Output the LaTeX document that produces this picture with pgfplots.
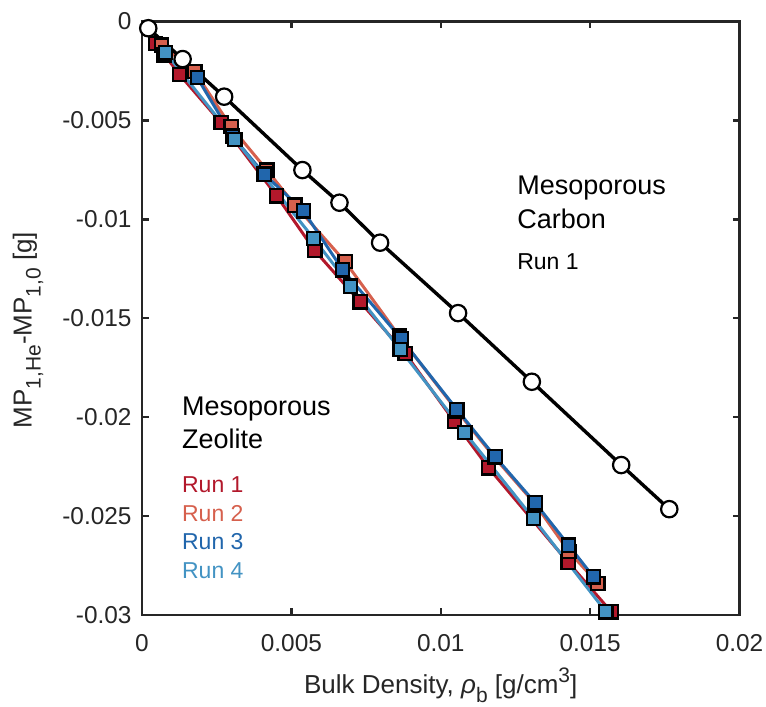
\documentclass[border=0pt]{standalone}
\usepackage{fontspec}
\setmainfont{Liberation Sans}
\usepackage{pgfplots}
\pgfplotsset{compat=1.18}
\definecolor{runA}{HTML}{B2182B}
\definecolor{runB}{HTML}{D6604D}
\definecolor{runC}{HTML}{2166AC}
\definecolor{runD}{HTML}{4393C3}
\definecolor{axgray}{HTML}{262626}
\newcommand{\sub}[1]{\raisebox{-0.65ex}{\fontsize{10.5}{12}\selectfont #1}}
\newcommand{\sups}[1]{\raisebox{0.85ex}{\fontsize{10.5}{12}\selectfont #1}}
\begin{document}
\begin{tikzpicture}
\begin{axis}[
 scale only axis, width=298.75pt, height=296.75pt,
 xmin=0, xmax=0.02, ymin=-0.03, ymax=0,
 xtick={0,0.005,0.01,0.015,0.02},
 xticklabels={0,0.005,0.01,0.015,0.02},
 ytick={-0.03,-0.025,-0.02,-0.015,-0.01,-0.005,0},
 yticklabels={-0.03,-0.025,-0.02,-0.015,-0.01,-0.005,0},
 scaled ticks=false,
 tick align=inside, major tick length=3.3pt,
 axis line style={line width=1.3pt, color=axgray},
 every tick/.style={line width=1.2pt, color=axgray},
 tick label style={font=\fontsize{12.2}{14}\selectfont, text=axgray},
 xticklabel style={yshift=-6pt},
 yticklabel style={xshift=-1.7pt},
 clip=false,
 label style={font=\fontsize{13}{15}\selectfont, text=axgray},
 xlabel={Bulk Density, \textit{ρ}\sub{b} [g/cm\sups{3}]},
 ylabel={MP\sub{1,He}-MP\sub{1,0} [g]},
 xlabel style={at={(axis description cs:0.5,-0.1331)}, anchor=base},
 ylabel style={at={(axis description cs:-0.1846,0.48)}, anchor=base},
 zzline/.style={line width=1.5pt, mark=square*, mark size=3.3pt},
]
\addplot[runA, zzline, mark options={fill=runA, draw=black, line width=1.1pt, solid}] coordinates {
(0.00046,-0.0011) (0.00125,-0.00267) (0.00265,-0.00512) (0.00451,-0.00882)
(0.00579,-0.01159) (0.0073,-0.01417) (0.00881,-0.01677) (0.01046,-0.02023)
(0.0116,-0.02256) (0.01426,-0.02733) (0.01571,-0.02984)};
\addplot[runB, zzline, mark options={fill=runB, draw=black, line width=1.1pt, solid}] coordinates {
(0.00066,-0.00119) (0.00177,-0.00254) (0.00298,-0.00532) (0.00418,-0.00751)
(0.00512,-0.00928) (0.0068,-0.01214) (0.00861,-0.0159) (0.01055,-0.01969)
(0.01179,-0.02202) (0.01316,-0.02439) (0.01429,-0.0268) (0.01526,-0.0284)};
\addplot[runC, zzline, mark options={fill=runC, draw=black, line width=1.1pt, solid}] coordinates {
(0.00074,-0.00169) (0.00185,-0.00284) (0.00302,-0.00579) (0.00409,-0.00771)
(0.0054,-0.00957) (0.00672,-0.01256) (0.00867,-0.01602) (0.01054,-0.01961)
(0.01182,-0.022) (0.01316,-0.02433) (0.01428,-0.02647) (0.01511,-0.02807)};
\addplot[runD, zzline, mark options={fill=runD, draw=black, line width=1.1pt, solid}] coordinates {
(0.00079,-0.00158) (0.00311,-0.00596) (0.00574,-0.01096) (0.00697,-0.01337)
(0.00864,-0.01657) (0.01081,-0.02079) (0.0131,-0.02512) (0.01553,-0.02984)};
\addplot[black, line width=1.7pt, mark=*, mark size=4.1pt, mark options={fill=white, draw=black, line width=1.1pt}] coordinates {
(0.00021,-0.00034) (0.00136,-0.0019) (0.00275,-0.0038) (0.00537,-0.00751)
(0.00661,-0.00916) (0.00797,-0.01118) (0.01058,-0.01474) (0.01305,-0.01821)
(0.01604,-0.02242) (0.01765,-0.02465)};
\node[anchor=base west, font=\fontsize{13.5}{16}\selectfont, inner sep=0pt] at (axis cs:0.01255,-0.00877) {Mesoporous};
\node[anchor=base west, font=\fontsize{13.5}{16}\selectfont, inner sep=0pt] at (axis cs:0.01255,-0.01045) {Carbon};
\node[anchor=base west, font=\fontsize{11.5}{14}\selectfont, inner sep=0pt] at (axis cs:0.01255,-0.01256) {Run 1};
\node[anchor=base west, font=\fontsize{13.5}{16}\selectfont, inner sep=0pt] at (axis cs:0.00133,-0.01993) {Mesoporous};
\node[anchor=base west, font=\fontsize{13.5}{16}\selectfont, inner sep=0pt] at (axis cs:0.00133,-0.02158) {Zeolite};
\node[anchor=base west, font=\fontsize{11.5}{14}\selectfont, inner sep=0pt, text=runA] at (axis cs:0.00133,-0.02382) {Run 1};
\node[anchor=base west, font=\fontsize{11.5}{14}\selectfont, inner sep=0pt, text=runB] at (axis cs:0.00133,-0.02525) {Run 2};
\node[anchor=base west, font=\fontsize{11.5}{14}\selectfont, inner sep=0pt, text=runC] at (axis cs:0.00133,-0.02668) {Run 3};
\node[anchor=base west, font=\fontsize{11.5}{14}\selectfont, inner sep=0pt, text=runD] at (axis cs:0.00133,-0.02815) {Run 4};
\coordinate (ll) at (rel axis cs:0,0);
\coordinate (ur) at (rel axis cs:1,1);
\end{axis}
\pgfresetboundingbox
\path ([xshift=-71pt,yshift=-46pt]ll) rectangle ([xshift=13.25pt,yshift=10.75pt]ur);
\end{tikzpicture}
\end{document}
